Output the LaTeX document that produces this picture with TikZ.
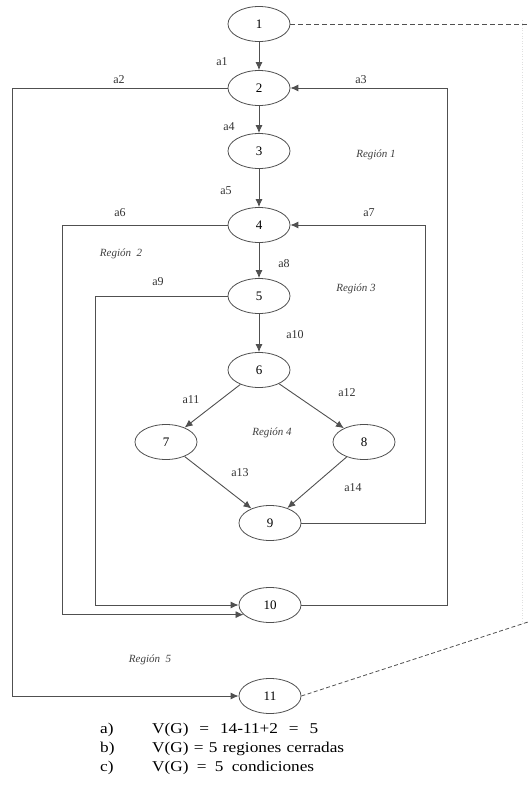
\documentclass[tikz,border=0pt]{standalone}
\usepackage{fontspec}
\setmainfont{Liberation Serif}
\newfontfamily\widefont[FakeStretch=1.15]{Liberation Serif}
\usetikzlibrary{arrows.meta,shapes.geometric}
\definecolor{ln}{HTML}{505050}
\tikzset{
  nd/.style={ellipse,draw=ln,line width=0.8pt,minimum width=62pt,minimum height=35pt,inner sep=0pt,font=\fontsize{13}{13}\selectfont},
  ed/.style={draw=ln,line width=0.9pt},
  arr/.style={ed,-{Latex[length=8pt,width=7pt]}},
  lbl/.style={font=\fontsize{12}{12}\selectfont,text=black!80,inner sep=0pt},
  reg/.style={font=\fontsize{11}{11}\selectfont\itshape,text=black!75,inner sep=0pt},
  dsh/.style={draw=ln,line width=0.8pt,dash pattern=on 5pt off 3pt},
  txt/.style={font=\widefont\fontsize{15}{15}\selectfont,anchor=base west,inner sep=0pt}
}
\begin{document}
\begin{tikzpicture}[x=1pt,y=-1pt]
\useasboundingbox (0,0) rectangle (528,790);
\node[nd] (n1) at (259,24) {1};
\node[nd] (n2) at (259,88) {2};
\node[nd] (n3) at (259,151) {3};
\node[nd] (n4) at (259,225) {4};
\node[nd] (n5) at (259,296) {5};
\node[nd] (n6) at (259,370) {6};
\node[nd] (n7) at (166,442) {7};
\node[nd] (n8) at (364,442) {8};
\node[nd] (n9) at (270,523) {9};
\node[nd] (n10) at (270,605) {10};
\node[nd] (n11) at (270,696) {11};
\coordinate (xa2) at (12,0);
\coordinate (xa3) at (447,0);
\coordinate (xa6) at (62,0);
\coordinate (xa7) at (425,0);
\coordinate (xa9) at (95,0);
\coordinate (d1) at (528,24);
\coordinate (d2) at (528,622);
\coordinate (v1) at (522,20);
\coordinate (v2) at (522,625);
% vertical chain
\draw[arr] (n1) -- (n2);
\draw[arr] (n2) -- (n3);
\draw[arr] (n3) -- (n4);
\draw[arr] (n4) -- (n5);
\draw[arr] (n5) -- (n6);
\draw[arr] (n6) -- (n7);
\draw[arr] (n6) -- (n8);
\draw[arr] (n7) -- (n9);
\draw[arr] (n8) -- (n9);
% loops
\draw[arr] (n2.west) -| (xa2 |- n11.west) -- (n11.west);
\draw[arr] (n10.east) -| (xa3 |- n2.east) -- (n2.east);
\draw[arr] (n4.west) -| (xa6 |- n10.200) -- (n10.200);
\draw[arr] (n9.east) -| (xa7 |- n4.east) -- (n4.east);
\draw[arr] (n5.west) -| (xa9 |- n10.west) -- (n10.west);
% dashed
\draw[dsh] (n1.east) -- (d1);
\draw[dsh,dash pattern=on 4pt off 2.5pt] (n11.east) -- (d2);
\draw[draw=black!12,line width=0.6pt,dotted] (v1) -- (v2);
% edge labels
\node[lbl] (l1) at (222,62) {a1};
\node[lbl] (l2) at (119,80) {a2};
\node[lbl] (l3) at (361,80) {a3};
\node[lbl] (l4) at (229,127) {a4};
\node[lbl] (l5) at (226,191) {a5};
\node[lbl] (l6) at (120,213) {a6};
\node[lbl] (l7) at (369,213) {a7};
\node[lbl] (l8) at (284,264) {a8};
\node[lbl] (l9) at (158,282) {a9};
\node[lbl] (l10) at (295,335) {a10};
\node[lbl] (l11) at (191,400) {a11};
\node[lbl] (l12) at (347,393) {a12};
\node[lbl] (l13) at (240,473) {a13};
\node[lbl] (l14) at (353,488) {a14};
% regions
\node[reg] (r1) at (376,155) {Región 1};
\node[reg] (r2) at (121,254) {Región~~2};
\node[reg] (r3) at (356,289) {Región 3};
\node[reg] (r4) at (272,433) {Región 4};
\node[reg] (r5) at (150,660) {Región~~5};
% formulas
\node[txt] (ta) at (100,733) {a)};
\node[txt] (tb) at (100,752) {b)};
\node[txt] (tc) at (100,771) {c)};
\node[txt] (fa) at (152,733) {\makebox[166pt][s]{V(G) = 14-11+2 = 5}};
\node[txt] (fb) at (152,752) {\makebox[192pt][s]{V(G) = 5 regiones cerradas}};
\node[txt] (fc) at (152,771) {\makebox[162pt][s]{V(G) = 5 condiciones}};
\end{tikzpicture}
\end{document}
